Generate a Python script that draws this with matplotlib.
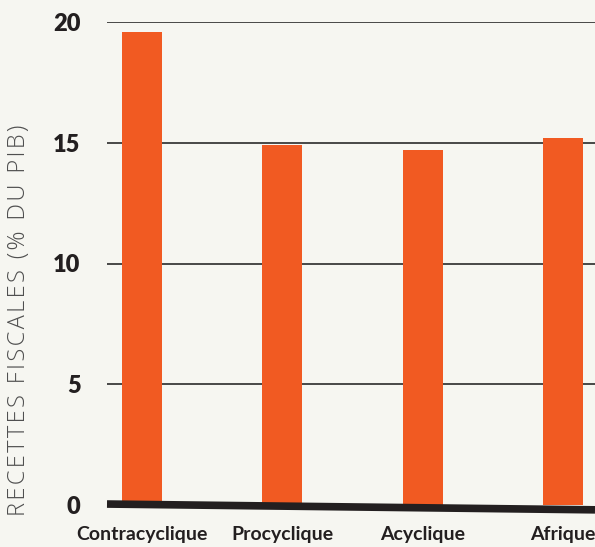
import matplotlib
matplotlib.use("Agg")
import matplotlib.pyplot as plt

# Data
categories = ["Contracyclique", "Procyclique", "Acyclique", "Afrique"]
recettes = [19.6, 14.9, 14.7, 15.2]
yticks = [0, 5, 10, 15, 20]
ylabel = "RECETTES FISCALES (% DU PIB)"

bg = "#f6f6f1"
bar_color = "#f15a22"
ink = "#231f20"

fig = plt.figure(figsize=(5.95, 5.47), dpi=100, facecolor=bg)
ax = fig.add_axes([107 / 595, 1 - 505 / 547, 1 - 107 / 595, (505 - 22) / 547])
ax.set_facecolor(bg)

x = range(len(categories))
ax.bar(x, recettes, width=0.285, color=bar_color, zorder=3)

ax.set_xlim(-0.249, 3.228)
ax.set_ylim(0, 20)

# horizontal gridlines
for v in yticks[1:]:
    ax.axhline(v, color="#3a3a3a", lw=1.3, zorder=1)

# thick, slightly slanted baseline
ax.plot([0, 1], [0.002, -0.010], transform=ax.transAxes, color=ink,
        lw=5.5, solid_capstyle="butt", clip_on=False, zorder=4)

for s in ax.spines.values():
    s.set_visible(False)

ax.set_yticks(yticks)
ax.set_yticklabels([str(v) for v in yticks], fontfamily="Lato",
                   fontweight="heavy", fontsize=17, color=ink)
ax.set_xticks(list(x))
ax.set_xticklabels(categories, fontfamily="Lato", fontweight="bold",
                   fontsize=14, color=ink)
ax.tick_params(axis="y", length=0, pad=19)
ax.tick_params(axis="x", length=0, pad=15)

# tracked (letter-spaced) axis title
tracked = "\u200a".join(ylabel)
fig.text(19 / 595, 1 - 320 / 547, tracked,
         rotation=90, ha="center", va="center", fontsize=17,
         family=["Open Sans", "DejaVu Sans"], fontweight="light",
         color="#4f4f4f")

fig.savefig("out.png", dpi=100, facecolor=bg)
